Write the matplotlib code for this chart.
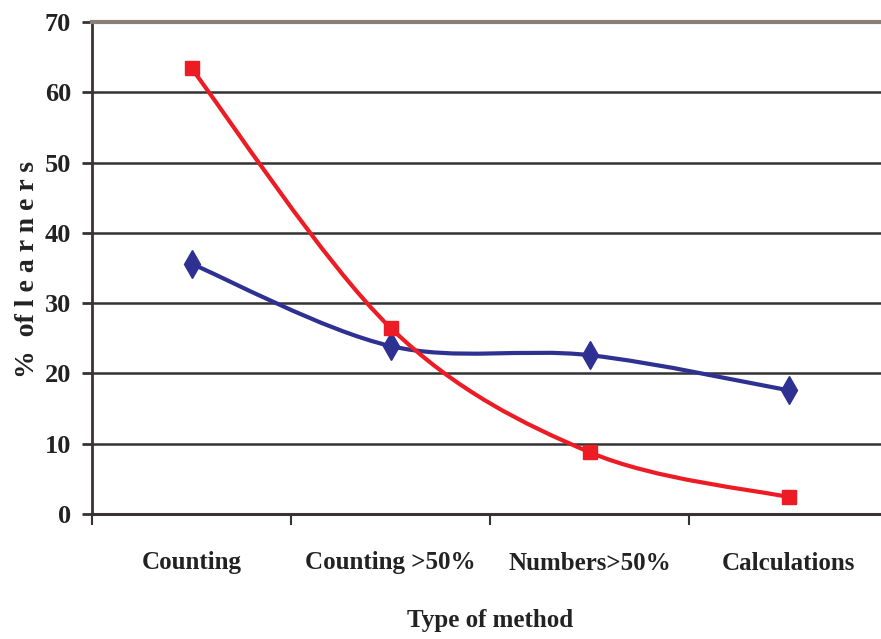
import matplotlib
matplotlib.use('Agg')
import matplotlib.pyplot as plt
from matplotlib.path import Path
from matplotlib.patches import PathPatch
import numpy as np

categories = ['Counting', 'Counting >50%', 'Numbers>50%', 'Calculations']
blue_vals = [35.6, 23.9, 22.6, 17.6]
red_vals = [63.4, 26.5, 8.8, 2.4]
y_ticks = [0, 10, 20, 30, 40, 50, 60, 70]

plt.rcParams['font.family'] = ['Liberation Serif', 'DejaVu Serif']
plt.rcParams['font.weight'] = 'bold'


def smooth_path(xs, ys):
    # excel-like smoothed line: catmull-rom as cubic bezier
    pts = np.column_stack([xs, ys]).astype(float)
    ext = np.vstack([pts[0], pts, pts[-1]])
    verts = [pts[0]]
    codes = [Path.MOVETO]
    for i in range(len(pts) - 1):
        p0, p1, p2, p3 = ext[i], ext[i + 1], ext[i + 2], ext[i + 3]
        c1 = p1 + (p2 - p0) / 6.0
        c2 = p2 - (p3 - p1) / 6.0
        verts += [c1, c2, p2]
        codes += [Path.CURVE4] * 3
    return Path(verts, codes)


fig = plt.figure(figsize=(8.81, 6.39), dpi=100)
W, H = 881, 639
ax = fig.add_axes([92 / W, 1 - 514 / H, (888 - 92) / W, (514 - 22) / H])

x = np.arange(len(categories))

for v in y_ticks[1:-1]:
    ax.axhline(v, color='#333333', lw=1.8, zorder=1)

blue = '#2E3192'
red = '#ED1C24'
ax.add_patch(PathPatch(smooth_path(x, blue_vals), fc='none', ec=blue, lw=3.0, zorder=3))
ax.plot(x, blue_vals, ls='none', marker='d', ms=14, color=blue, zorder=3)
ax.add_patch(PathPatch(smooth_path(x, red_vals), fc='none', ec=red, lw=3.0, zorder=4))
ax.plot(x, red_vals, ls='none', marker='s', ms=10, color=red, zorder=4)

ax.set_xlim(-0.5, 3.5)
ax.set_ylim(0, 70)

ax.spines['top'].set_color('#8C7F7A')
ax.spines['top'].set_linewidth(3)
ax.spines['right'].set_visible(False)
ax.spines['left'].set_color('#3A3232')
ax.spines['left'].set_linewidth(2)
ax.spines['bottom'].set_color('#3A3232')
ax.spines['bottom'].set_linewidth(2.2)

ax.set_yticks(y_ticks)
ax.set_yticklabels([str(t) for t in y_ticks])
ax.tick_params(axis='y', direction='out', length=7, width=2, color='#333333',
               labelsize=19, pad=8, labelcolor='#222222')

ax.set_xticks(x)
ax.set_xticklabels(categories)
ax.set_xticks(np.arange(-0.5, 4.0, 1.0), minor=True)
ax.tick_params(axis='x', which='major', length=0, labelsize=18, pad=27, labelcolor='#222222')
ax.tick_params(axis='x', which='minor', direction='out', length=8, width=1.5, color='#333333')

fig.text(490 / W, 1 - 621 / H, 'Type of method', ha='center', va='center',
         fontsize=18, fontweight='bold', color='#222222')
fig.text(28 / W, 1 - 270 / H, '%  of l e a r n e r s', rotation=90, ha='center', va='center',
         fontsize=20, fontweight='bold', color='#222222')

fig.savefig('out.png', dpi=100)
